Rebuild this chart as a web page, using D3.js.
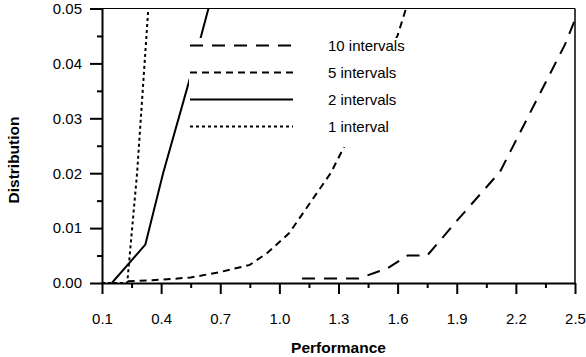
<!DOCTYPE html>
<html>
<head>
<meta charset="utf-8">
<script src="https://cdn.jsdelivr.net/npm/d3@7"></script>
<style>
  body { margin: 0; background: #fff; }
  svg { display: block; font-family: "Liberation Sans", Arial, Helvetica, sans-serif; }
</style>
</head>
<body>
<svg id="chart" width="586" height="357"></svg>
<script>
// chart data
var xTicks = [0.1, 0.4, 0.7, 1.0, 1.3, 1.6, 1.9, 2.2, 2.5];
var yTicks = [0.00, 0.01, 0.02, 0.03, 0.04, 0.05];

var perf1  = [0.1, 0.228, 0.278, 0.335];
var dist1  = [0, 0, 0.02, 0.05];

var perf2  = [0.15, 0.32, 0.41, 0.54, 0.64, 0.66];
var dist2  = [0, 0.007, 0.02, 0.0365, 0.05, 0.053];

var perf5  = [0.23, 0.4, 0.55, 0.7, 0.85, 0.94, 1.05, 1.15, 1.26, 1.32, 1.45, 1.6, 1.66];
var dist5  = [0.0003, 0.0006, 0.001, 0.002, 0.0033, 0.0055, 0.0091, 0.0143, 0.02, 0.0242, 0.0337, 0.0451, 0.052];

var perf10 = [1.115, 1.4, 1.55, 1.65, 1.75, 1.9, 2.12, 2.45, 2.5];
var dist10 = [0.0008, 0.0008, 0.0027, 0.005, 0.005, 0.0113, 0.0203, 0.0435, 0.048];

var seriesNames = ["10 intervals", "5 intervals", "2 intervals", "1 interval"];

// layout (note: "top" is taken by window.top, so use plot* names)
var plotL = 102, plotR = 575, plotT = 8.5, plotB = 283;
var svg = d3.select("#chart");

var x = d3.scaleLinear().domain([0.1, 2.5]).range([plotL, plotR]);
var y = d3.scaleLinear().domain([0, 0.05]).range([plotB, plotT]);

// minor ticks sit half way between the majors
var xMinor = d3.range(0.25, 2.5, 0.3);
var yMinor = d3.range(0.005, 0.05, 0.01);

function pairs(xs, ys) {
  return xs.map(function (v, i) { return [v, ys[i]]; });
}

var series = [
  {name: seriesNames[0], data: pairs(perf10, dist10), dash: "13,9"},
  {name: seriesNames[1], data: pairs(perf5, dist5), dash: "7,5"},
  {name: seriesNames[2], data: pairs(perf2, dist2), dash: null},
  {name: seriesNames[3], data: pairs(perf1, dist1), dash: "3,3"}
];

svg.append("clipPath").attr("id", "plotclip")
  .append("rect")
  .attr("x", plotL).attr("y", plotT)
  .attr("width", plotR - plotL).attr("height", plotB - plotT);

var line = d3.line()
  .x(function (d) { return x(d[0]); })
  .y(function (d) { return y(d[1]); });

var curves = svg.append("g").attr("clip-path", "url(#plotclip)");
series.forEach(function (s) {
  curves.append("path")
    .attr("d", line(s.data))
    .attr("fill", "none")
    .attr("stroke", "#000")
    .attr("stroke-width", 2)
    .attr("stroke-dasharray", s.dash);
});

// legend sits on a white patch that hides the curves behind it
svg.append("rect")
  .attr("x", 189).attr("y", 38)
  .attr("width", 250).attr("height", 109)
  .attr("fill", "#fff");

var legend = svg.append("g");
series.forEach(function (s, i) {
  var ly = 45.5 + i * 27;
  legend.append("line")
    .attr("x1", 190).attr("x2", 293)
    .attr("y1", ly).attr("y2", ly)
    .attr("stroke", "#000")
    .attr("stroke-width", 2)
    .attr("stroke-dasharray", s.dash);
  legend.append("text")
    .attr("x", 328).attr("y", ly)
    .attr("dy", "0.35em")
    .attr("font-size", 15)
    .text(s.name);
});

// frame top and right
svg.append("line")
  .attr("x1", plotL).attr("x2", plotR).attr("y1", plotT).attr("y2", plotT)
  .attr("stroke", "#000").attr("stroke-width", 1.2);
svg.append("line")
  .attr("x1", plotR).attr("x2", plotR).attr("y1", plotT).attr("y2", plotB)
  .attr("stroke", "#000").attr("stroke-width", 1.5);

// x axis
svg.append("g").attr("transform", "translate(0," + plotB + ")")
  .call(d3.axisBottom(x).tickValues(xTicks).tickSize(11).tickSizeOuter(0)
    .tickPadding(19).tickFormat(d3.format(".1f")));
svg.append("g").attr("transform", "translate(0," + plotB + ")")
  .call(d3.axisBottom(x).tickValues(xMinor).tickSize(5).tickSizeOuter(0).tickFormat(""))
  .select(".domain").remove();

// y axis
svg.append("g").attr("transform", "translate(" + plotL + ",0)")
  .call(d3.axisLeft(y).tickValues(yTicks).tickSize(12).tickSizeOuter(0)
    .tickPadding(8).tickFormat(d3.format(".2f")));
svg.append("g").attr("transform", "translate(" + plotL + ",0)")
  .call(d3.axisLeft(y).tickValues(yMinor).tickSize(5).tickSizeOuter(0).tickFormat(""))
  .select(".domain").remove();

svg.selectAll(".tick line").attr("stroke", "#000").attr("stroke-width", 2);
svg.selectAll(".domain").attr("stroke", "#000").attr("stroke-width", 2);
svg.selectAll(".tick text")
  .attr("font-size", 15)
  .attr("font-family", "'Liberation Sans', Arial, sans-serif")
  .attr("fill", "#000");

// axis titles
svg.append("text")
  .attr("x", (plotL + plotR) / 2).attr("y", 353)
  .attr("text-anchor", "middle")
  .attr("font-size", 15.5).attr("font-weight", "bold")
  .text("Performance");
svg.append("text")
  .attr("transform", "translate(19,160) rotate(-90)")
  .attr("text-anchor", "middle")
  .attr("font-size", 15.5).attr("font-weight", "bold")
  .text("Distribution");
</script>
</body>
</html>
